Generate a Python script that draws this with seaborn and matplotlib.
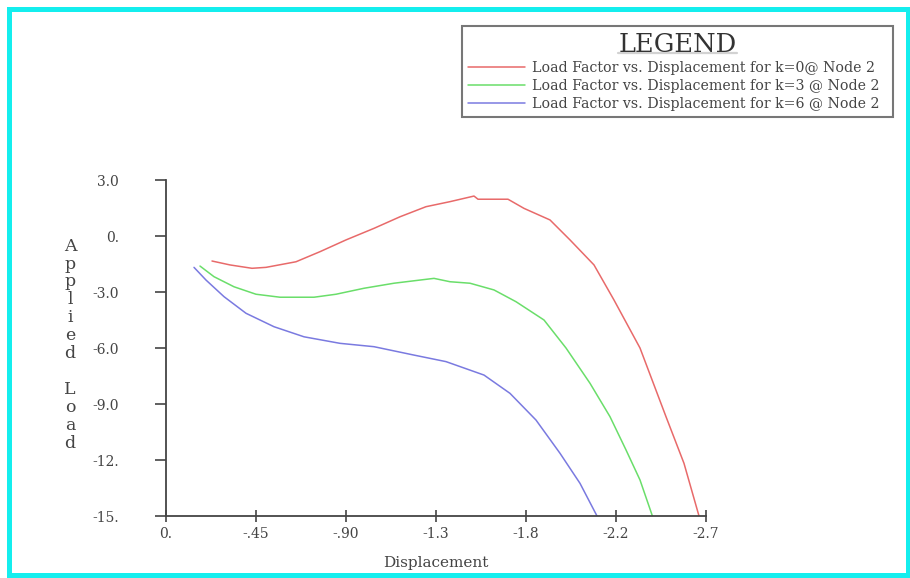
import numpy as np
import pandas as pd
import seaborn as sns
import matplotlib.pyplot as plt
from matplotlib.patches import Rectangle
from matplotlib.lines import Line2D

# values
red_x = [-0.23, -0.32, -0.43, -0.50, -0.65, -0.77, -0.90, -1.04, -1.17, -1.30, -1.42, -1.54,
         -1.56, -1.71, -1.79, -1.92, -2.02, -2.14, -2.24, -2.37, -2.50, -2.59, -2.665]
red_y = [-1.34, -1.55, -1.73, -1.68, -1.38, -0.84, -0.21, 0.41, 1.03, 1.57, 1.84, 2.14,
         1.97, 1.97, 1.48, 0.86, -0.21, -1.55, -3.43, -6.00, -9.68, -12.18, -15.0]
green_x = [-0.17, -0.24, -0.34, -0.45, -0.57, -0.74, -0.85, -0.99, -1.14, -1.27, -1.34,
           -1.42, -1.52, -1.64, -1.75, -1.89, -2.00, -2.12, -2.22, -2.30, -2.37, -2.432]
green_y = [-1.61, -2.18, -2.72, -3.12, -3.28, -3.28, -3.12, -2.80, -2.53, -2.36, -2.27,
           -2.45, -2.53, -2.89, -3.52, -4.50, -6.00, -7.89, -9.68, -11.46, -13.07, -15.0]
blue_x = [-0.14, -0.20, -0.29, -0.40, -0.54, -0.69, -0.87, -1.04, -1.24, -1.40, -1.59,
          -1.72, -1.85, -1.97, -2.07, -2.155]
blue_y = [-1.68, -2.36, -3.25, -4.14, -4.86, -5.40, -5.75, -5.93, -6.38, -6.73, -7.45,
          -8.43, -9.86, -11.64, -13.25, -15.0]

series_names = ["Load Factor vs. Displacement for k=0@ Node 2",
                "Load Factor vs. Displacement for k=3 @ Node 2",
                "Load Factor vs. Displacement for k=6 @ Node 2"]
series_colors = ["#e86a6a", "#6ade6a", "#7a7ae0"]

xticks = [0, -0.45, -0.90, -1.35, -1.80, -2.25, -2.70]
xtick_labels = ["0.", "-.45", "-.90", "-1.3", "-1.8", "-2.2", "-2.7"]
yticks = [3, 0, -3, -6, -9, -12, -15]
ytick_labels = ["3.0", "0.", "-3.0", "-6.0", "-9.0", "-12.", "-15."]

frames = []
for name, xs, ys in zip(series_names, [red_x, green_x, blue_x], [red_y, green_y, blue_y]):
    frames.append(pd.DataFrame({"disp": xs, "load": ys, "series": name}))
df = pd.concat(frames, ignore_index=True)

sns.set_theme(style="white")
plt.rcParams['font.family'] = ['DejaVu Serif']

fig = plt.figure(figsize=(9.1, 5.78), dpi=100)
ax = fig.add_axes([166 / 910, 62 / 578, 540 / 910, 336 / 578])

sns.lineplot(data=df, x="disp", y="load", hue="series", estimator=None,
             sort=False, palette=dict(zip(series_names, series_colors)),
             linewidth=1.1, ax=ax)

ax.set_xlim(0, -2.7)
ax.set_ylim(-15, 3)
ax.set_xticks(xticks)
ax.set_xticklabels(xtick_labels)
ax.set_yticks(yticks)
ax.set_yticklabels(ytick_labels)

for side in ["top", "right"]:
    ax.spines[side].set_visible(False)
for side in ["left", "bottom"]:
    ax.spines[side].set_color("#444444")
    ax.spines[side].set_linewidth(1.3)

ax.tick_params(axis="x", bottom=True, direction="inout", length=8, width=1.2,
               color="#444444", labelsize=10, labelcolor="#444444", pad=4)
ax.tick_params(axis="y", left=True, direction="out", length=8, width=1.2,
               color="#444444", labelsize=10, labelcolor="#444444", pad=26)
ax.set_xlabel("Displacement", fontsize=11, color="#444444", labelpad=11)
ax.set_ylabel("\n".join("Applied Load"), rotation=0, fontsize=12.5, color="#444444",
              linespacing=1.07, ha="center", va="center", multialignment="center")
ax.yaxis.set_label_coords(-0.178, 0.51)

handles, labels = ax.get_legend_handles_labels()
ax.get_legend().remove()
leg = fig.legend(handles, labels, loc="upper left",
                 bbox_to_anchor=(462 / 910, 1 - 117 / 578, 431 / 910, 91 / 578),
                 mode="expand", borderaxespad=0, fancybox=False, frameon=True,
                 title="LEGEND", title_fontsize=18.5,
                 fontsize=10.2, handlelength=4.0, handletextpad=0.55,
                 labelspacing=0.28, borderpad=0.42)
leg.get_frame().set_edgecolor("#555555")
leg.get_frame().set_linewidth(1.5)
leg.get_title().set_color("#333333")
for t in leg.get_texts():
    t.set_color("#444444")

# underline under the legend title
fig.canvas.draw()
tb = leg.get_title().get_window_extent().transformed(fig.transFigure.inverted())
fig.lines.append(Line2D([tb.x0, tb.x1], [tb.y0 + 0.007, tb.y0 + 0.007],
                        transform=fig.transFigure, color="#222222", linewidth=1.6))

# cyan outer frame
fig.patches.append(Rectangle((9 / 910, 3 / 578), 899 / 910, 566 / 578,
                             transform=fig.transFigure, fill=False,
                             edgecolor="#14eeee", linewidth=3.6))

fig.savefig("out.png", dpi=100)
